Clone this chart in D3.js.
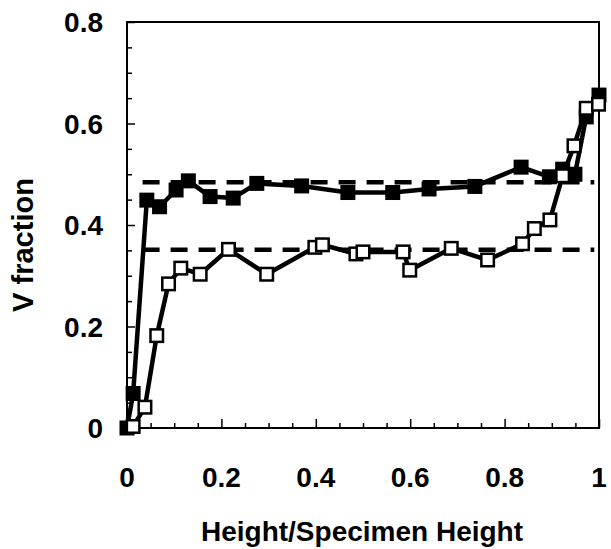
<!DOCTYPE html>
<html lang="en">
<head>
<meta charset="utf-8">
<title>V fraction vs height</title>
<style>
body{
  margin: 0;
  background: #fff;
}
text{
  font-family: "Liberation Sans", Arial, sans-serif;
  font-weight: bold;
  fill: #000;
}
</style>
</head>
<body>
<div id="chart"></div>
<script src="https://d3js.org/d3.v7.min.js"></script>
<script>

// filled squares series
const filledX = [0, 0.013, 0.042, 0.069, 0.104, 0.130, 0.176, 0.225, 0.275, 0.370, 0.468, 0.563, 0.640, 0.737, 0.835, 0.895, 0.923, 0.949, 0.973, 1.0];
const filledY = [0, 0.068, 0.449, 0.436, 0.469, 0.487, 0.456, 0.453, 0.482, 0.477, 0.464, 0.464, 0.471, 0.476, 0.514, 0.495, 0.510, 0.500, 0.613, 0.656];

// open squares series
const openX = [0.013, 0.038, 0.063, 0.088, 0.114, 0.155, 0.215, 0.296, 0.398, 0.414, 0.485, 0.500, 0.585, 0.599, 0.687, 0.764, 0.838, 0.863, 0.896, 0.923, 0.947, 0.973, 0.999];
const openY = [0.003, 0.041, 0.182, 0.284, 0.315, 0.303, 0.352, 0.303, 0.356, 0.361, 0.343, 0.347, 0.347, 0.311, 0.354, 0.331, 0.363, 0.393, 0.410, 0.497, 0.556, 0.630, 0.638];

// average levels (dashed)
const avgLevels = [0.484, 0.351];
const avgSpan = [0.033, 0.99];

const xTicks = [0, 0.2, 0.4, 0.6, 0.8, 1];
const yTicks = [0, 0.2, 0.4, 0.6, 0.8];
const xLabel = "Height/Specimen Height";
const yLabel = "V fraction";

const margin = {top: 22, right: 12, bottom: 121, left: 127};
const width = 611 - margin.left - margin.right;
const height = 549 - margin.top - margin.bottom;

const svg = d3.select('#chart').append('svg')
  .attr('width', 611)
  .attr('height', 549);

const g = svg.append('g')
  .attr('transform', 'translate(' + margin.left + ',' + margin.top + ')');

const x = d3.scaleLinear().domain([0, 1]).range([0, width]);
const y = d3.scaleLinear().domain([0, 0.8]).range([height, 0]);

// minor ticks every 0.05
const xMinor = d3.range(0, 1.0001, 0.05).filter(v => !xTicks.some(t => Math.abs(t - v) < 1e-6));
const yMinor = d3.range(0, 0.8001, 0.05).filter(v => !yTicks.some(t => Math.abs(t - v) < 1e-6));

// x axis: ticks point inward
const xAxis = g.append('g')
  .attr('transform', 'translate(0,' + height + ')');
xAxis.call(d3.axisBottom(x).tickValues(xTicks).tickSize(-9).tickFormat(''));
xAxis.append('g').call(d3.axisBottom(x).tickValues(xMinor).tickSize(-5).tickFormat(''));
xAxis.selectAll('.domain').remove();
xAxis.selectAll('line').attr('stroke', '#000').attr('stroke-width', 1.5);

const yAxis = g.append('g');
yAxis.call(d3.axisLeft(y).tickValues(yTicks).tickSize(-8).tickFormat(''));
yAxis.append('g').call(d3.axisLeft(y).tickValues(yMinor).tickSize(-5).tickFormat(''));
yAxis.selectAll('.domain').remove();
yAxis.selectAll('line').attr('stroke', '#000').attr('stroke-width', 1.5);

// frame
g.append('rect')
  .attr('width', width)
  .attr('height', height)
  .attr('fill', 'none')
  .attr('stroke', '#000')
  .attr('stroke-width', 2);

// tick labels
g.selectAll('.xlab')
  .data(xTicks)
  .join('text')
  .attr('class', 'xlab')
  .attr('x', d => x(d))
  .attr('y', height + 59)
  .attr('text-anchor', 'middle')
  .style('font-size', '28px')
  .text(d => d3.format('')(d));

g.selectAll('.ylab')
  .data(yTicks)
  .join('text')
  .attr('class', 'ylab')
  .attr('x', -24)
  .attr('y', d => y(d) + 10)
  .attr('text-anchor', 'end')
  .style('font-size', '28px')
  .text(d => d3.format('')(d));

// axis titles
svg.append('text')
  .attr('x', margin.left + width / 2 - 1)
  .attr('y', 541)
  .attr('text-anchor', 'middle')
  .style('font-size', '28px')
  .text(xLabel);

svg.append('text')
  .attr('transform', 'translate(33,' + (margin.top + height / 2 + 20) + ') rotate(-90)')
  .attr('text-anchor', 'middle')
  .style('font-size', '29px')
  .text(yLabel);

// dashed average lines
g.selectAll('.avg')
  .data(avgLevels)
  .join('line')
  .attr('class', 'avg')
  .attr('x1', x(avgSpan[0]))
  .attr('x2', x(avgSpan[1]))
  .attr('y1', d => y(d))
  .attr('y2', d => y(d))
  .attr('stroke', '#000')
  .attr('stroke-width', 4.5)
  .attr('stroke-dasharray', '17,11');

const line = d3.line()
  .x(d => x(d[0]))
  .y(d => y(d[1]));

const filled = d3.zip(filledX, filledY);
const open = d3.zip(openX, openY);
const sz = 15;

// filled series
g.append('path')
  .datum(filled)
  .attr('d', line)
  .attr('fill', 'none')
  .attr('stroke', '#000')
  .attr('stroke-width', 4.5)
  .attr('stroke-linejoin', 'round');

g.selectAll('.fm')
  .data(filled)
  .join('rect')
  .attr('class', 'fm')
  .attr('x', d => x(d[0]) - sz / 2)
  .attr('y', d => y(d[1]) - sz / 2)
  .attr('width', sz)
  .attr('height', sz)
  .attr('fill', '#000');

// open series
g.append('path')
  .datum(open)
  .attr('d', line)
  .attr('fill', 'none')
  .attr('stroke', '#000')
  .attr('stroke-width', 4.5)
  .attr('stroke-linejoin', 'round');

g.selectAll('.om')
  .data(open)
  .join('rect')
  .attr('class', 'om')
  .attr('x', d => x(d[0]) - (sz - 2.5) / 2)
  .attr('y', d => y(d[1]) - (sz - 2.5) / 2)
  .attr('width', sz - 2.5)
  .attr('height', sz - 2.5)
  .attr('fill', '#fff')
  .attr('stroke', '#000')
  .attr('stroke-width', 2.5);

</script>
</body>
</html>
